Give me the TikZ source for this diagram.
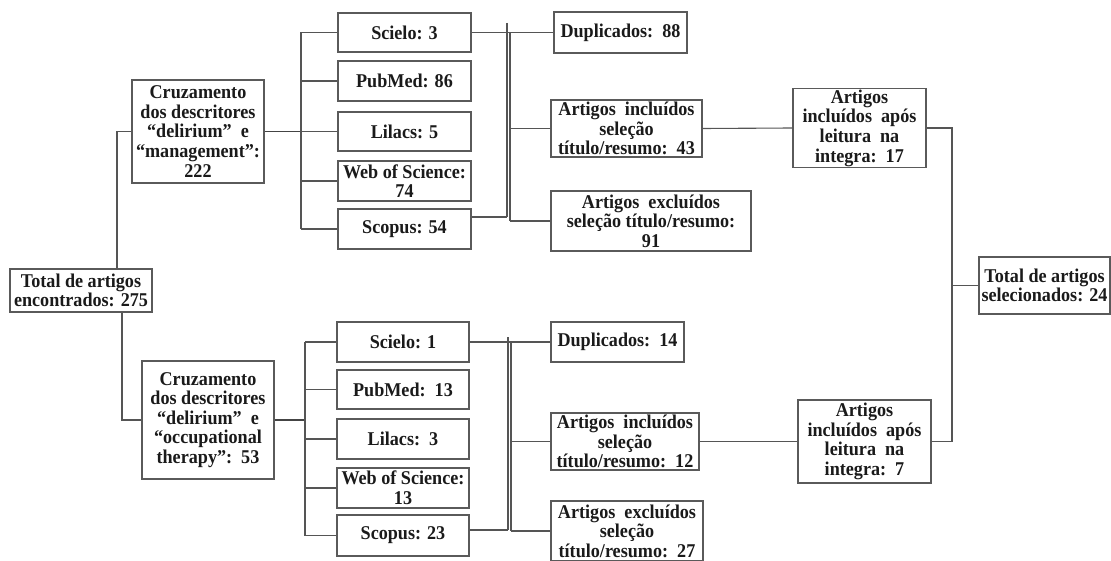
\documentclass[tikz,border=0pt]{standalone}
\usepackage{fontspec}
\setmainfont{Liberation Serif}[FakeStretch=0.93]
\definecolor{linec}{HTML}{555555}
\definecolor{boxc}{HTML}{5A5A5A}
\definecolor{txt}{HTML}{1A1A1A}
\begin{document}
\begin{tikzpicture}[x=1pt,y=-1pt,
  box/.style={draw=boxc, line width=1.2pt, align=center, inner sep=1pt,
    text=txt, font=\fontsize{19.5}{19.6}\selectfont\bfseries},
  conn/.style={draw=linec, line width=1.1pt},
  thick conn/.style={draw=linec!80!black, line width=1.8pt}]
\useasboundingbox (0,0) rectangle (1111,561);
\begin{scope}
\clip (0,0) rectangle (1111,561);
% left root
\node[box, minimum width=142pt, minimum height=43pt] (tot) at (81,290.5) {Total de artigos\\encontrados: 275};
% group 1
\node[box, minimum width=132pt, minimum height=103pt] (cz1) at (198,131.5) {Cruzamento\\dos descritores\\“delirium”\ \ e\\“management”:\\222};
\node[box, minimum width=133pt, minimum height=39pt] (s1) at (404.5,32.5) {Scielo: 3};
\node[box, minimum width=133pt, minimum height=40pt] (p1) at (404.5,81) {PubMed: 86};
\node[box, minimum width=133pt, minimum height=39pt] (l1) at (404.5,131.5) {Lilacs: 5};
\node[box, minimum width=133pt, minimum height=40pt] (w1) at (404.5,181) {Web of Science:\\74};
\node[box, minimum width=133pt, minimum height=40pt] (sc1) at (404.5,229) {Scopus: 54};
\node[box, minimum width=133pt, minimum height=41pt] (d1) at (620.5,32.5) {Duplicados:\ \ 88};
\node[box, minimum width=151pt, minimum height=57pt] (i1) at (626.5,128.5) {Artigos\ \ incluídos\\seleção\\título/resumo:\ \ 43};
\node[box, minimum width=200pt, minimum height=60pt] (e1) at (651,221) {Artigos\ \ excluídos\\seleção título/resumo:\\91};
\node[box, minimum width=133pt, minimum height=78pt] (a1) at (859.5,128) {Artigos\\incluídos\ \ após\\leitura\ \ na\\integra:\ \ 17};
% final
\node[box, minimum width=131pt, minimum height=57pt] (ts) at (1044.5,285.5) {Total de artigos\\selecionados: 24};
% group 2
\node[box, minimum width=132pt, minimum height=118pt] (cz2) at (208,420) {Cruzamento\\dos descritores\\“delirium”\ \ e\\“occupational\\therapy”:\ \ 53};
\node[box, minimum width=132pt, minimum height=40pt] (s2) at (403,342) {Scielo: 1};
\node[box, minimum width=132pt, minimum height=39pt] (p2) at (403,389.5) {PubMed:\ \ 13};
\node[box, minimum width=132pt, minimum height=40pt] (l2) at (403,439) {Lilacs:\ \ 3};
\node[box, minimum width=132pt, minimum height=40pt] (w2) at (403,488) {Web of Science:\\13};
\node[box, minimum width=132pt, minimum height=41pt] (sc2) at (403,535.5) {Scopus: 23};
\node[box, minimum width=133pt, minimum height=40pt] (d2) at (617.5,342) {Duplicados:\ \ 14};
\node[box, minimum width=148pt, minimum height=57pt] (i2) at (625,441.5) {Artigos\ \ incluídos\\seleção\\título/resumo:\ \ 12};
\node[box, minimum width=152pt, minimum height=60pt] (e2) at (627,531) {Artigos\ \ excluídos\\seleção\\título/resumo:\ \ 27};
\node[box, minimum width=133pt, minimum height=83pt] (a2) at (864.5,441.5) {Artigos\\incluídos\ \ após\\leitura\ \ na\\integra:\ \ 7};

% helper coordinates
\coordinate (b1) at (301,131.5);
\coordinate (b2) at (305,420);
\coordinate (m1) at (507,23);
\coordinate (n1) at (510,32.5);
\coordinate (m2) at (508,337);
\coordinate (n2) at (511,342);
\coordinate (j) at (952,285.5);

% root connectors
\draw[conn] ([xshift=36pt]tot.north) |- (cz1.west);
\draw[conn] ([xshift=41pt]tot.south) |- (cz2.west);

% group 1 left bracket
\draw[thick conn] (cz1.east) -- (cz1.east -| b1);
\draw[conn] (s1.west -| b1) -- (sc1.west -| b1);
\foreach \n in {s1,p1,l1,w1,sc1} \draw[conn] (\n.west -| b1) -- (\n.west);
% group 1 right
\draw[conn] (s1.east) -- (d1.west);
\draw[conn] ([yshift=12pt]sc1.east) -- ([yshift=12pt]sc1.east -| m1);
\draw[conn] (m1) -- ([yshift=12pt]sc1.east -| m1);
\draw[conn] (n1) -- (e1.west -| n1);
\draw[conn] (i1.west -| n1) -- (i1.west);
\draw[conn] (e1.west -| n1) -- (e1.west);
\draw[conn] (i1.east) -- (a1.west);

% group 2 left bracket
\draw[thick conn] (cz2.east) -- (cz2.east -| b2);
\draw[conn] (s2.west -| b2) -- (sc2.west -| b2);
\foreach \n in {s2,p2,l2,w2,sc2} \draw[conn] (\n.west -| b2) -- (\n.west);
% group 2 right
\draw[conn] (s2.east) -- (d2.west);
\draw[conn] ([yshift=5.5pt]sc2.east) -- ([yshift=5.5pt]sc2.east -| m2);
\draw[conn] (m2) -- ([yshift=5.5pt]sc2.east -| m2);
\draw[conn] (n2) -- (e2.west -| n2);
\draw[conn] (i2.west -| n2) -- (i2.west);
\draw[conn] (e2.west -| n2) -- (e2.west);
\draw[conn] (i2.east) -- (a2.west);

% to final
\draw[conn] (a1.east) -| (j);
\draw[conn] (a2.east) -| (j);
\draw[conn] (j) -- (ts.west);
\end{scope}
\end{tikzpicture}
\end{document}
